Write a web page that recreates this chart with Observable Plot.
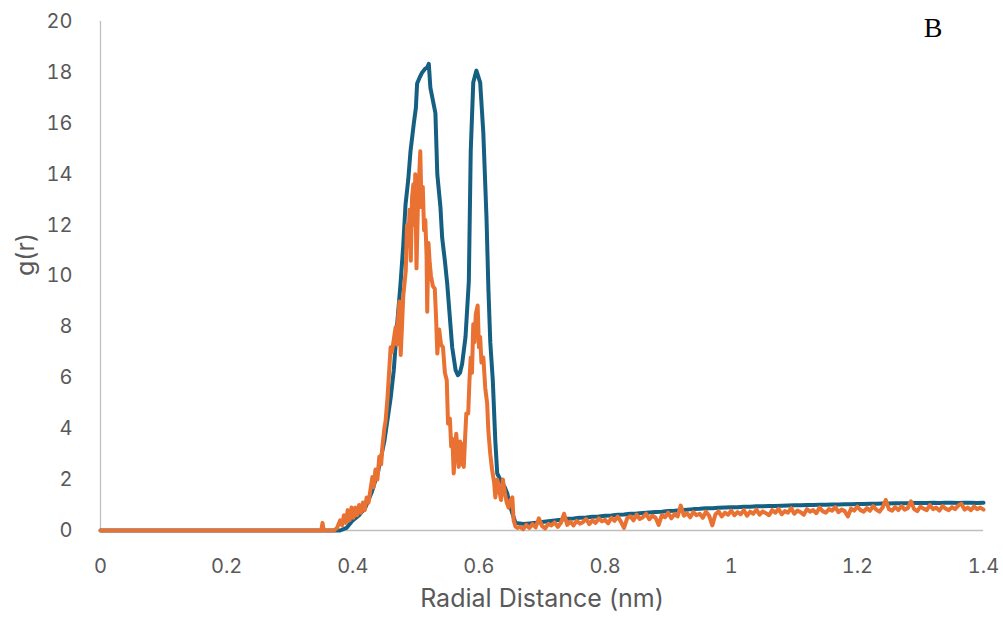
<!DOCTYPE html>
<html>
<head>
<meta charset="utf-8">
<script src="https://cdn.jsdelivr.net/npm/d3@7"></script>
<script src="https://cdn.jsdelivr.net/npm/@observablehq/plot@0.6"></script>
<style>
  html, body { margin: 0; padding: 0; background: #fff; }
  #chart { width: 1003px; height: 617px; }
</style>
</head>
<body>
<div id="chart"></div>
<script>
// ---- Data ----
const xTicks = [0, 0.2, 0.4, 0.6, 0.8, 1, 1.2, 1.4];
const xTickLabels = ["0", "0.2", "0.4", "0.6", "0.8", "1", "1.2", "1.4"];
const yTicks = [0, 2, 4, 6, 8, 10, 12, 14, 16, 18, 20];
const yTickLabels = ["0", "2", "4", "6", "8", "10", "12", "14", "16", "18", "20"];
const seriesNames = ["Blue", "Orange"];
const panelLabel = "B";
const xLabel = "Radial Distance (nm)";
const yLabel = "g(r)";

// Blue series: [r (nm), g(r)]
const blueSeries = [
  [0, 0], [0.38, 0], [0.39, 0.1], [0.40, 0.4], [0.41, 0.6], [0.42, 0.9], [0.43, 1.5],
  [0.44, 2.3], [0.45, 3.5], [0.46, 5.2], [0.465, 6.3], [0.47, 8.0], [0.4757, 9.7],
  [0.48, 11.2], [0.4836, 12.8], [0.488, 13.8], [0.4915, 14.9], [0.4968, 16.0],
  [0.500, 16.6], [0.502, 17.56], [0.506, 17.8], [0.510, 18.0], [0.515, 18.15],
  [0.518, 18.2], [0.5205, 18.34], [0.523, 17.4], [0.527, 16.9], [0.531, 16.4],
  [0.534, 14.0], [0.539, 12.7], [0.5417, 11.5], [0.546, 10.6], [0.5497, 9.7],
  [0.5576, 7.2], [0.563, 6.3], [0.5666, 6.1], [0.570, 6.2], [0.5734, 6.55],
  [0.5787, 7.6], [0.584, 9.8], [0.587, 14.9], [0.591, 17.6], [0.596, 18.07],
  [0.602, 17.6], [0.607, 15.6], [0.612, 12.3], [0.615, 9.5], [0.618, 7.4],
  [0.622, 5.9], [0.626, 3.5], [0.629, 2.24], [0.636, 1.9], [0.641, 1.7],
  [0.645, 1.45], [0.649, 1.0], [0.653, 0.67], [0.658, 0.3], [0.665, 0.28],
  [0.67, 0.26], [0.68, 0.28], [0.69, 0.30], [0.70, 0.33], [0.71, 0.36], [0.72, 0.39],
  [0.73, 0.42], [0.74, 0.46], [0.75, 0.47], [0.76, 0.50], [0.77, 0.51], [0.78, 0.54],
  [0.79, 0.55], [0.80, 0.58], [0.81, 0.59], [0.82, 0.62], [0.83, 0.63], [0.84, 0.66],
  [0.85, 0.67], [0.86, 0.69], [0.87, 0.71], [0.88, 0.73], [0.89, 0.74], [0.90, 0.77],
  [0.91, 0.78], [0.92, 0.80], [0.93, 0.82], [0.94, 0.84], [0.95, 0.85], [0.96, 0.87],
  [0.97, 0.87], [0.98, 0.89], [0.99, 0.90], [1.00, 0.91], [1.01, 0.91], [1.02, 0.93],
  [1.03, 0.93], [1.04, 0.95], [1.05, 0.95], [1.06, 0.96], [1.07, 0.96], [1.08, 0.97],
  [1.09, 0.98], [1.10, 0.99], [1.11, 0.99], [1.12, 1.00], [1.13, 1.00], [1.14, 1.01],
  [1.15, 1.01], [1.16, 1.02], [1.17, 1.02], [1.18, 1.03], [1.19, 1.03], [1.20, 1.04],
  [1.21, 1.04], [1.22, 1.05], [1.23, 1.05], [1.24, 1.06], [1.25, 1.06], [1.26, 1.07],
  [1.27, 1.07], [1.28, 1.07], [1.29, 1.08], [1.30, 1.08], [1.31, 1.08], [1.32, 1.09],
  [1.33, 1.08], [1.34, 1.09], [1.35, 1.09], [1.36, 1.08], [1.37, 1.09], [1.38, 1.09],
  [1.39, 1.08], [1.40, 1.09]
];

// Orange series: [r (nm), g(r)]
const orangeSeries = [
  [0, 0], [0.350, 0], [0.352, 0.3], [0.354, 0], [0.370, 0], [0.375, 0.1], [0.380, 0.4],
  [0.383, 0.2], [0.386, 0.6], [0.389, 0.3], [0.392, 0.8], [0.395, 0.4], [0.398, 0.9],
  [0.401, 0.5], [0.404, 0.9], [0.407, 0.6], [0.410, 1.0], [0.413, 0.7], [0.416, 1.1],
  [0.419, 0.8], [0.422, 1.3], [0.425, 1.1], [0.428, 1.6], [0.431, 2.1], [0.433, 1.7],
  [0.436, 2.4], [0.439, 2.0], [0.442, 2.9], [0.445, 2.6], [0.447, 3.3], [0.450, 4.0],
  [0.452, 4.3], [0.455, 5.2], [0.457, 6.0], [0.460, 7.2], [0.462, 7.0], [0.465, 7.5],
  [0.468, 8.0], [0.470, 7.3], [0.472, 8.4], [0.474, 9.0], [0.476, 6.9], [0.478, 8.0],
  [0.480, 9.2], [0.482, 9.7], [0.484, 10.2], [0.486, 12.0], [0.488, 11.2], [0.490, 12.6],
  [0.492, 10.6], [0.494, 13.1], [0.496, 13.6], [0.498, 12.0], [0.499, 14.0], [0.501, 10.3],
  [0.503, 12.5], [0.505, 13.8], [0.507, 14.9], [0.509, 12.7], [0.511, 13.5], [0.513, 11.8],
  [0.515, 12.2], [0.517, 10.8], [0.518, 8.6], [0.520, 11.3], [0.522, 10.5], [0.524, 10.0],
  [0.527, 9.6], [0.530, 9.5], [0.532, 8.4], [0.534, 6.95], [0.537, 7.9], [0.540, 7.3],
  [0.543, 7.2], [0.546, 6.2], [0.549, 5.9], [0.551, 4.2], [0.554, 4.4], [0.556, 3.3],
  [0.558, 3.6], [0.560, 2.24], [0.562, 3.0], [0.564, 3.8], [0.566, 3.2], [0.568, 2.5],
  [0.570, 3.5], [0.572, 2.6], [0.574, 3.4], [0.576, 2.5], [0.578, 3.6], [0.580, 4.6],
  [0.583, 4.6], [0.585, 5.9], [0.587, 6.8], [0.589, 6.2], [0.591, 8.1], [0.593, 7.4],
  [0.595, 8.5], [0.598, 8.84], [0.600, 7.2], [0.602, 7.6], [0.604, 6.6], [0.607, 6.8],
  [0.610, 5.6], [0.613, 5.0], [0.615, 3.9], [0.618, 3.0], [0.621, 2.36], [0.624, 1.9],
  [0.626, 1.3], [0.629, 2.0], [0.632, 1.6], [0.635, 1.2], [0.638, 2.0], [0.641, 1.5],
  [0.644, 1.1], [0.647, 0.9], [0.650, 1.2], [0.653, 1.3], [0.655, 0.4], [0.658, 0.15],
  [0.661, 0.1], [0.665, 0.15], [0.670, 0.05], [0.675, 0.22], [0.680, 0.10], [0.685, 0.25],
  [0.690, 0.12], [0.695, 0.48], [0.700, 0.18], [0.705, 0.08], [0.710, 0.26], [0.715, 0.20],
  [0.720, 0.32], [0.725, 0.14], [0.730, 0.30], [0.735, 0.66], [0.740, 0.22], [0.745, 0.35],
  [0.750, 0.20], [0.755, 0.38], [0.760, 0.27], [0.765, 0.33], [0.770, 0.45], [0.775, 0.25],
  [0.780, 0.40], [0.785, 0.30], [0.790, 0.48], [0.795, 0.36], [0.800, 0.42], [0.805, 0.28],
  [0.810, 0.50], [0.815, 0.38], [0.820, 0.55], [0.825, 0.35], [0.830, 0.10], [0.835, 0.48],
  [0.840, 0.56], [0.845, 0.40], [0.850, 0.62], [0.855, 0.45], [0.860, 0.52], [0.865, 0.66],
  [0.870, 0.44], [0.875, 0.58], [0.880, 0.50], [0.885, 0.22], [0.890, 0.60], [0.895, 0.52],
  [0.900, 0.70], [0.905, 0.48], [0.910, 0.64], [0.915, 0.55], [0.920, 0.98], [0.925, 0.58],
  [0.930, 0.68], [0.935, 0.52], [0.940, 0.72], [0.945, 0.60], [0.950, 0.66], [0.955, 0.50],
  [0.960, 0.74], [0.965, 0.58], [0.970, 0.20], [0.975, 0.64], [0.980, 0.75], [0.985, 0.55],
  [0.990, 0.70], [0.995, 0.62], [1.000, 0.78], [1.005, 0.60], [1.010, 0.72], [1.015, 0.64],
  [1.020, 0.80], [1.025, 0.58], [1.030, 0.74], [1.035, 0.66], [1.040, 0.82], [1.045, 0.62],
  [1.050, 0.75], [1.055, 0.68], [1.060, 0.60], [1.065, 0.80], [1.070, 0.70], [1.075, 0.85],
  [1.080, 0.64], [1.085, 0.76], [1.090, 0.70], [1.095, 0.88], [1.100, 0.66], [1.105, 0.78],
  [1.110, 0.72], [1.115, 0.62], [1.120, 0.84], [1.125, 0.74], [1.130, 0.80], [1.135, 0.68],
  [1.140, 0.90], [1.145, 0.76], [1.150, 0.70], [1.155, 0.84], [1.160, 0.78], [1.165, 0.92],
  [1.170, 0.72], [1.175, 0.82], [1.180, 0.76], [1.185, 0.55], [1.190, 0.86], [1.195, 0.78],
  [1.200, 0.94], [1.205, 0.80], [1.210, 0.74], [1.215, 0.88], [1.220, 0.78], [1.225, 0.96],
  [1.230, 0.82], [1.235, 0.74], [1.240, 0.90], [1.245, 1.20], [1.250, 0.84], [1.255, 0.78],
  [1.260, 0.92], [1.265, 0.80], [1.270, 0.96], [1.275, 0.82], [1.280, 0.88], [1.285, 1.15],
  [1.290, 0.84], [1.295, 0.76], [1.300, 0.94], [1.305, 0.86], [1.310, 0.80], [1.315, 1.00],
  [1.320, 0.84], [1.325, 0.90], [1.330, 0.78], [1.335, 0.96], [1.340, 0.86], [1.345, 0.80],
  [1.350, 0.92], [1.355, 0.84], [1.360, 0.98], [1.365, 1.05], [1.370, 0.82], [1.375, 0.90],
  [1.380, 0.80], [1.385, 0.94], [1.390, 0.84], [1.395, 0.90], [1.400, 0.82]
];

const colors = ["#156082", "#E97132"];

// ---- Build tables ----
const blueRows = blueSeries.map(([r, g]) => ({ r, g }));
const orangeRows = orangeSeries.map(([r, g]) => ({ r, g }));

const font = "Inter, 'Liberation Sans', Arial, sans-serif";

const chart = Plot.plot({
  width: 1003,
  height: 617,
  marginLeft: 100,
  marginRight: 20,
  marginTop: 21,
  marginBottom: 87,
  style: { fontFamily: font, background: "#fff", overflow: "visible" },
  x: { domain: [0, 1.4] },
  y: { domain: [0, 20] },
  marks: [
    Plot.ruleY([0], { stroke: "#bfbfbf", strokeWidth: 1.3 }),
    Plot.ruleX([0], { stroke: "#bfbfbf", strokeWidth: 1.3 }),
    Plot.axisX({
      ticks: xTicks, tickSize: 0, tickPadding: 28,
      tickFormat: (d) => xTickLabels[xTicks.indexOf(d)],
      fontSize: 20, fill: "#595959", label: null
    }),
    Plot.axisY({
      ticks: yTicks, tickSize: 0, tickPadding: 28,
      tickFormat: (d) => yTickLabels[yTicks.indexOf(d)],
      fontSize: 20, fill: "#595959", label: null
    }),
    Plot.line(blueRows, {
      x: "r", y: "g", stroke: colors[0], strokeWidth: 4,
      strokeLinejoin: "round", strokeLinecap: "round"
    }),
    Plot.line(orangeRows, {
      x: "r", y: "g", stroke: colors[1], strokeWidth: 4,
      strokeLinejoin: "round", strokeLinecap: "round"
    }),
    Plot.text([xLabel], {
      frameAnchor: "bottom", dy: 76, fontSize: 25, fill: "#595959", text: d => d
    }),
    Plot.text([yLabel], {
      frameAnchor: "left", rotate: -90, dx: -75, fontSize: 25, fill: "#595959", text: d => d
    }),
    Plot.text([panelLabel], {
      frameAnchor: "top-right", dx: -41, dy: -4, fontSize: 28, fill: "#000",
      fontFamily: "'Liberation Serif', 'Times New Roman', serif", textAnchor: "end",
      text: d => d
    })
  ]
});

document.getElementById("chart").appendChild(chart);
</script>
</body>
</html>
